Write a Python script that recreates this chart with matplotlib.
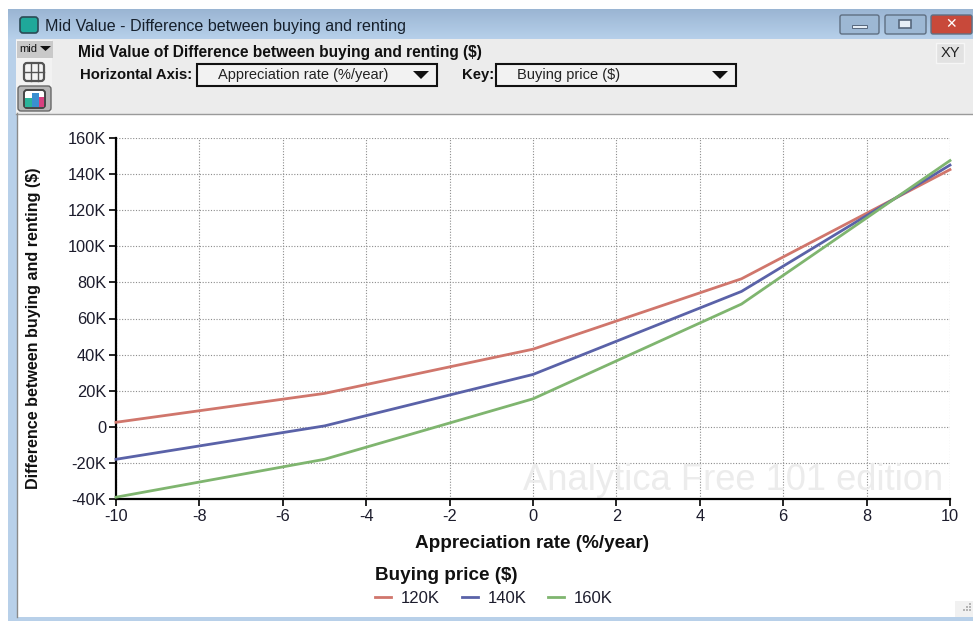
import numpy as np
import matplotlib
matplotlib.use('Agg')
import matplotlib.pyplot as plt
from matplotlib.patches import Rectangle, FancyBboxPatch, Polygon

plt.rcParams['font.family'] = ['Liberation Sans', 'DejaVu Sans']
plt.rcParams['axes.unicode_minus'] = False

# data
appreciation = [-10, -5, 0, 5, 10]
price_120k = [2500, 18500, 43000, 82000, 142500]
price_140k = [-18000, 500, 29000, 75000, 145000]
price_160k = [-39000, -18000, 15500, 68000, 147500]
series_names = ['120K', '140K', '160K']
series_colors = ['#d0766c', '#5a62a8', '#7fb56f']
x_ticks = [-10, -8, -6, -4, -2, 0, 2, 4, 6, 8, 10]
y_ticks = [-40000, -20000, 0, 20000, 40000, 60000, 80000, 100000, 120000, 140000, 160000]
y_labels = ['-40K', '-20K', '0', '20K', '40K', '60K', '80K', '100K', '120K', '140K', '160K']

W, H = 973, 621
fig = plt.figure(figsize=(W / 100, H / 100), dpi=100, facecolor='white')

# window chrome, drawn in pixel coordinates
bg = fig.add_axes([0, 0, 1, 1])
bg.set_xlim(0, W)
bg.set_ylim(H, 0)
bg.axis('off')

# title bar gradient
grad = np.linspace(0, 1, 64).reshape(-1, 1)
title_cmap = matplotlib.colors.LinearSegmentedColormap.from_list('tb', ['#9ab5d3', '#b7d0ea'])
bg.imshow(grad, extent=[8, W, 39, 9], cmap=title_cmap, aspect='auto', zorder=1)
bg.set_xlim(0, W)
bg.set_ylim(H, 0)
bg.add_patch(Rectangle((8, 39), 9, H - 39, fc='#b8d0e9', ec='none', zorder=1))
bg.add_patch(Rectangle((8, 617), W - 8, 4, fc='#b8d0e9', ec='none', zorder=1))
bg.add_patch(Rectangle((16, 39), W - 16, 75, fc='#ececec', ec='none', zorder=1))
bg.plot([16, W], [113.5, 113.5], color='#9a9a9a', lw=1, zorder=2)
bg.plot([16.5, 16.5], [113, 617], color='#8a8a8a', lw=1, zorder=2)

# title icon and text
bg.add_patch(FancyBboxPatch((21, 18), 16, 14, boxstyle='round,pad=1,rounding_size=3',
                            fc='#1fa89a', ec='#2b4a55', lw=1.2, zorder=3))
bg.text(45, 26, 'Mid Value - Difference between buying and renting', fontsize=11.6,
        color='#16202c', va='center', zorder=4)

# window buttons
btns = [(840, 15, 39, '#9db8d4'), (885, 15, 41, '#9db8d4'), (931, 15, 41, '#c8493a')]
for bx, by, bw, bc in btns:
    bg.add_patch(FancyBboxPatch((bx, by), bw, 19, boxstyle='round,pad=0,rounding_size=2',
                                fc=bc, ec='#5f6f82', lw=1, zorder=3))
bg.add_patch(Rectangle((852, 25), 15, 3, fc='#e6eef6', ec='#56677c', lw=0.7, zorder=4))
bg.add_patch(Rectangle((899, 20), 12, 8, fc='#e6eef6', ec='#56677c', lw=1.2, zorder=4))
bg.text(951.5, 24, '\u2715', fontsize=10, fontweight='bold', color='white', ha='center',
        va='center', family=['DejaVu Sans'], zorder=4)

# XY button
bg.add_patch(Rectangle((936, 43), 28, 20, fc='#e2e2e2', ec='#f6f6f6', lw=1, zorder=3))
bg.text(950, 53, 'XY', fontsize=10.5, color='#222222', ha='center', va='center', zorder=4)

# left toolbar
bg.add_patch(Rectangle((16, 40), 36, 20, fc='#f4f4f4', ec='none', zorder=2))
bg.add_patch(Rectangle((17, 41), 36, 17, fc='#c9c9c9', ec='none', zorder=3))
bg.text(19.5, 48.5, 'mid', fontsize=8, color='#111111', va='center', zorder=4)
bg.add_patch(Polygon([[40, 46], [51, 46], [45.5, 51]], fc='#111111', ec='none', zorder=4))
bg.add_patch(Rectangle((16, 60), 36, 52, fc='#f2f2f2', ec='none', zorder=2))
bg.add_patch(FancyBboxPatch((24, 63), 20, 18, boxstyle='round,pad=0,rounding_size=3',
                            fc='#f4f4f4', ec='#555555', lw=1.6, zorder=3))
bg.plot([24, 44], [72, 72], color='#555555', lw=1, zorder=4)
bg.plot([30.5, 30.5], [63, 81], color='#555555', lw=1, zorder=4)
bg.plot([37.5, 37.5], [63, 81], color='#555555', lw=1, zorder=4)
bg.add_patch(FancyBboxPatch((18, 86), 33, 25, boxstyle='round,pad=0,rounding_size=3',
                            fc='#b5b5b5', ec='#666666', lw=1, zorder=3))
bg.add_patch(FancyBboxPatch((24, 90), 21, 18, boxstyle='round,pad=0,rounding_size=3',
                            fc='#ffffff', ec='#444444', lw=1.4, zorder=4))
bg.add_patch(Rectangle((25, 98), 7, 9, fc='#2bb39a', ec='none', zorder=5))
bg.add_patch(Rectangle((32, 93), 7, 14, fc='#3a8fd0', ec='none', zorder=5))
bg.add_patch(Rectangle((39, 97), 5, 10, fc='#d8407f', ec='none', zorder=5))

# header text and dropdowns
bg.text(78, 52, 'Mid Value of Difference between buying and renting ($)', fontsize=11.2,
        fontweight='bold', color='#111111', va='center', zorder=4)
bg.text(80, 75, 'Horizontal Axis:', fontsize=10.7, fontweight='bold', color='#111111',
        va='center', zorder=4)
bg.text(462, 75, 'Key:', fontsize=10.7, fontweight='bold', color='#111111', va='center', zorder=4)
for bx, bw, label, tx in [(197, 240, 'Appreciation rate (%/year)', 218),
                          (496, 240, 'Buying price ($)', 517)]:
    bg.add_patch(Rectangle((bx, 64), bw, 22, fc='#f2f2f2', ec='#111111', lw=1.5, zorder=3))
    bg.text(tx, 75, label, fontsize=10.5, color='#222222', va='center', zorder=4)
    ax_r = bx + bw - 8
    bg.add_patch(Polygon([[ax_r - 16, 71], [ax_r, 71], [ax_r - 8, 79]], fc='#111111',
                         ec='none', zorder=4))

# size grip
bg.add_patch(Rectangle((955, 601), 18, 16, fc='#f1f1f1', ec='none', zorder=3))
for gx, gy in [(969, 603), (966, 606), (969, 606), (963, 609), (966, 609), (969, 609)]:
    bg.add_patch(Rectangle((gx, gy), 1.5, 1.5, fc='#b5b5b5', ec='none', zorder=4))

# plot area
left, right, top, bottom = 116, 950, 138, 499
ax = fig.add_axes([left / W, 1 - bottom / H, (right - left) / W, (bottom - top) / H])
ax.patch.set_alpha(0)
ax.set_xlim(-10, 10)
ax.set_ylim(-40000, 160000)
ax.grid(True, color='#8c8c8c', ls=(0, (1, 1.5)), lw=0.8)
ax.set_axisbelow(True)

for vals, name, col in zip([price_120k, price_140k, price_160k], series_names, series_colors):
    ax.plot(appreciation, vals, color=col, lw=2.0, label=name, clip_on=False, zorder=3)

ax.set_xticks(x_ticks)
ax.set_yticks(y_ticks)
ax.set_yticklabels(y_labels)
ax.tick_params(axis='both', labelsize=11.8, length=5, width=1.2, color='black', pad=2,
               labelcolor='#1c1c2c')
ax.spines['top'].set_visible(False)
ax.spines['right'].set_visible(False)
ax.spines['left'].set_linewidth(1.6)
ax.spines['bottom'].set_linewidth(1.6)

ax.text(0.992, 0.05, 'Analytica Free 101 edition', transform=ax.transAxes, fontsize=26.2,
        color='#ececec', ha='right', va='center', zorder=1)

fig.text(532.5 / W, 1 - 544 / H, 'Appreciation rate (%/year)', fontsize=13.6, fontweight='bold',
         color='#111111', ha='center', va='center')
fig.text(34 / W, 1 - 328 / H, 'Difference between buying and renting ($)', fontsize=11.6,
         fontweight='bold', color='#111111', rotation=90, ha='center', va='center')

# legend
fig.text(375 / W, 1 - 575.5 / H, 'Buying price ($)', fontsize=13.6, fontweight='bold',
         color='#111111', va='center')
handles, labels = ax.get_legend_handles_labels()
fig.legend(handles, labels, loc='center left', bbox_to_anchor=(375 / W, 1 - 598.5 / H), ncol=3,
           frameon=False, fontsize=12, handlelength=0.96, handletextpad=0.6, columnspacing=1.3,
           borderpad=0, borderaxespad=0, labelcolor='#1c1c2c')

plt.savefig('out.png', dpi=100)
